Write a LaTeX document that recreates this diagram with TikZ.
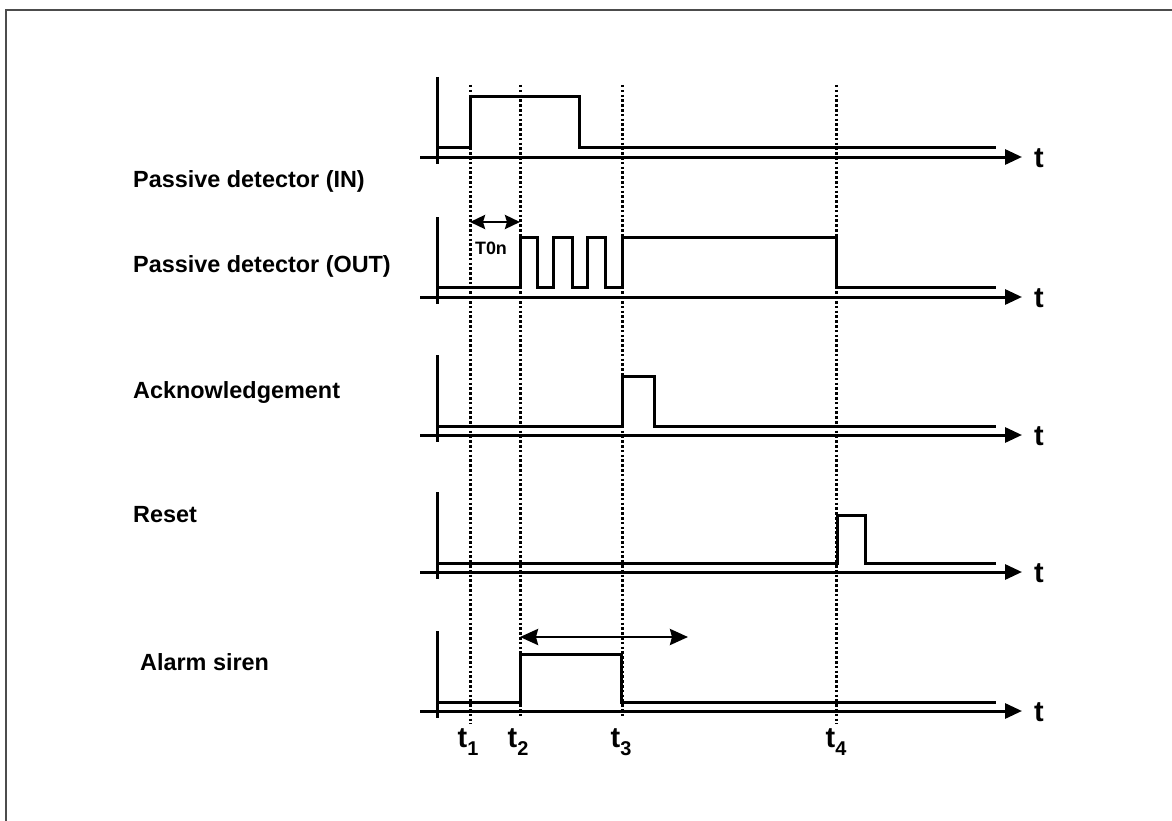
\documentclass[tikz,border=0pt]{standalone}
\usepackage{fontspec}
\setmainfont{Liberation Sans}
\usetikzlibrary{arrows.meta}
\begin{document}
\begin{tikzpicture}[x=1bp,y=-1bp,
  sig/.style={line width=3bp,line join=miter},
  axisline/.style={line width=3bp,-{Triangle[length=17bp,width=15bp]}},
  vaxis/.style={line width=3bp},
  guide/.style={line width=3bp,dash pattern=on 2.5bp off 2.3bp},
  lab/.style={anchor=base west,inner sep=0pt,font=\fontsize{23.5}{26}\selectfont\bfseries},
  tlab/.style={anchor=base,inner sep=0pt,font=\fontsize{29}{30}\selectfont\bfseries},
  taxis/.style={anchor=base west,inner sep=0pt,font=\fontsize{29}{30}\selectfont\bfseries},
  dblarrow/.style={line width=2.8bp,{Stealth[length=18bp,width=16bp,inset=2bp]}-{Stealth[length=18bp,width=16bp,inset=2bp]}},
  smallarrow/.style={line width=2.8bp,{Stealth[length=15bp,width=14bp,inset=2bp]}-{Stealth[length=15bp,width=14bp,inset=2bp]}}]
\useasboundingbox (0,0) rectangle (1172,821);
% frame
\draw[black!70,line width=2.4bp] (6,821) -- (6,10) -- (1172,10);

% guides
\foreach \gx/\gy in {470/724,520/716,622/716,836/724}
  \draw[guide] (\gx,85) -- (\gx,\gy);

% axes
\foreach \ay in {157,297,435,572,711}{
  \draw[axisline] (420,\ay) -- (1022,\ay);
  \draw[vaxis] (437,\ay-80) -- (437,\ay+7);
  \node[taxis] at (1034,\ay+10) {t};
}

% labels
\node[lab] (lin) at (133,187) {Passive detector (IN)};
\node[lab] (lout) at (133,272) {Passive detector (OUT)};
\node[lab] (lack) at (133,398) {Acknowledgement};
\node[lab] (lres) at (133,522) {Reset};
\node[lab] (lal) at (140,670) {Alarm siren};

% signals
\draw[sig] (437,147) -- (470,147) -- (470,97) -- (579,97) -- (579,147) -- (996,147);
\draw[sig] (437,287) -- (520,287) -- (520,237) -- (537,237) -- (537,287) -- (553,287) -- (553,237) -- (572,237) -- (572,287) -- (587,287) -- (587,237) -- (605,237) -- (605,287) -- (622,287) -- (622,237) -- (836,237) -- (836,287) -- (996,287);
\draw[sig] (437,426) -- (622,426) -- (622,376) -- (654,376) -- (654,426) -- (996,426);
\draw[sig] (437,563) -- (837,563) -- (837,515) -- (865,515) -- (865,563) -- (996,563);
\draw[sig] (437,702) -- (520,702) -- (520,654) -- (621,654) -- (621,702) -- (996,702);

% T0n arrow
\coordinate (a1) at (470,222);
\coordinate (a2) at (520,222);
\draw[smallarrow] (a1) -- (a2);
\node[anchor=base,inner sep=0pt,font=\fontsize{18}{20}\selectfont\bfseries] (ton) at (491,254) {T0n};

% alarm arrow
\coordinate (b1) at (520,637);
\coordinate (b2) at (688,637);
\draw[dblarrow] (b1) -- (b2);

% time labels
\node[tlab] (t1) at (468,747) {t\raisebox{-8bp}{\fontsize{20}{20}\selectfont 1}};
\node[tlab] (t2) at (518,747) {t\raisebox{-8bp}{\fontsize{20}{20}\selectfont 2}};
\node[tlab] (t3) at (621,747) {t\raisebox{-8bp}{\fontsize{20}{20}\selectfont 3}};
\node[tlab] (t4) at (836,747) {t\raisebox{-8bp}{\fontsize{20}{20}\selectfont 4}};
\end{tikzpicture}
\end{document}
